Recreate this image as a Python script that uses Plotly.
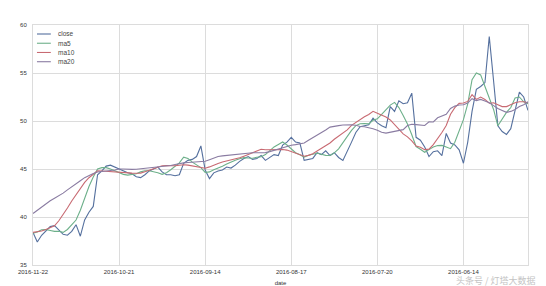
import plotly.graph_objects as go

# ---- data (newest date on the left) ----
tick_labels = ["2016-11-22", "2016-10-21", "2016-09-14", "2016-08-17", "2016-07-20", "2016-06-14"]
tick_step = 20
series_names = ["close", "ma5", "ma10", "ma20"]

close = [38.4, 37.4, 38.1, 38.6, 39.0, 39.1, 38.6, 38.2, 38.1, 38.5,
         39.2, 38.0, 39.7, 40.5, 41.1, 44.4, 44.8, 45.3, 45.4, 45.2,
         45.0, 44.8, 44.6, 44.5, 44.2, 44.1, 44.4, 44.8, 45.0, 45.2,
         44.7, 44.4, 44.4, 44.3, 44.4, 45.6, 45.9, 46.0, 46.3, 47.4,
         44.9, 44.0, 44.6, 44.8, 44.9, 45.2, 45.1, 45.4, 45.8, 46.1,
         46.3, 46.0, 46.1, 46.4, 45.9, 46.2, 46.5, 46.4, 47.5, 47.8,
         48.3, 47.8, 47.7, 45.9, 46.0, 46.1, 46.7, 46.5, 46.9, 46.4,
         46.7, 46.2, 45.9, 46.8, 47.8, 48.8, 49.4, 49.5, 49.6, 50.3,
         49.8, 49.5, 49.3, 51.5, 51.0, 52.1, 51.8, 51.9, 52.9, 48.3,
         48.0, 47.3, 46.3, 46.8, 46.9, 46.4, 48.7, 47.7, 47.5, 47.0,
         45.6, 47.8, 51.0, 53.3, 53.6, 54.0, 58.8, 54.2, 49.5, 48.9,
         48.6, 49.2, 51.2, 53.0, 52.5, 51.1]

ma5 = [38.30, 38.44, 38.68, 38.70, 38.60, 38.50, 38.52, 38.40, 38.70, 39.18,
       39.68, 40.70, 42.06, 43.18, 44.16, 45.00, 45.14, 45.14, 45.00, 44.82,
       44.62, 44.44, 44.36, 44.40, 44.50, 44.70, 44.82, 44.82, 44.74, 44.60,
       44.44, 44.62, 44.92, 45.24, 45.64, 46.24, 46.10, 45.72, 45.44, 45.14,
       44.64, 44.70, 44.92, 45.08, 45.28, 45.52, 45.74, 45.92, 46.06, 46.18,
       46.14, 46.12, 46.22, 46.28, 46.50, 46.88, 47.30, 47.56, 47.82, 47.50,
       47.14, 46.70, 46.48, 46.24, 46.44, 46.52, 46.64, 46.54, 46.42, 46.40,
       46.68, 47.10, 47.74, 48.46, 49.02, 49.52, 49.72, 49.74, 49.70, 50.08,
       50.22, 50.68, 51.14, 51.66, 51.94, 51.40, 50.58, 49.68, 48.56, 47.34,
       47.06, 46.74, 47.02, 47.30, 47.44, 47.46, 47.30, 47.12, 47.78, 48.88,
       50.14, 51.78, 54.30, 55.00, 54.80, 53.60, 52.30, 51.20, 49.50, 50.18,
       50.90, 51.40, 52.40, 52.50, 52.00, 51.80]

ma10 = [38.40, 38.48, 38.54, 38.70, 38.89, 39.09, 39.61, 40.23, 40.94, 41.67,
        42.34, 42.92, 43.60, 44.09, 44.49, 44.81, 44.79, 44.75, 44.70, 44.66,
        44.66, 44.63, 44.59, 44.57, 44.55, 44.57, 44.72, 44.87, 44.99, 45.12,
        45.34, 45.36, 45.32, 45.34, 45.39, 45.44, 45.40, 45.32, 45.26, 45.21,
        45.08, 45.22, 45.42, 45.57, 45.73, 45.83, 45.93, 46.07, 46.17, 46.34,
        46.51, 46.71, 46.89, 47.05, 47.00, 47.01, 47.00, 47.02, 47.03, 46.97,
        46.83, 46.67, 46.51, 46.33, 46.42, 46.60, 46.87, 47.14, 47.44, 47.71,
        48.10, 48.41, 48.74, 49.08, 49.55, 49.87, 50.20, 50.44, 50.68, 51.01,
        50.81, 50.63, 50.41, 50.11, 49.64, 49.23, 48.66, 48.35, 47.93, 47.39,
        47.26, 47.02, 47.07, 47.54, 48.16, 48.80, 49.54, 50.71, 51.39, 51.84,
        51.87, 52.04, 52.75, 52.25, 52.49, 52.25, 51.85, 51.90, 51.70, 51.50,
        51.50, 51.70, 51.90, 52.00, 52.00, 51.90]

ma20 = [40.37, 40.70, 41.07, 41.40, 41.69, 41.95, 42.20, 42.49, 42.82, 43.17,
        43.50, 43.78, 44.10, 44.33, 44.52, 44.69, 44.76, 44.81, 44.85, 44.89,
        45.00, 45.00, 44.96, 44.96, 44.97, 45.01, 45.06, 45.10, 45.13, 45.17,
        45.21, 45.29, 45.37, 45.46, 45.56, 45.64, 45.67, 45.70, 45.72, 45.78,
        45.80, 45.97, 46.16, 46.31, 46.37, 46.42, 46.47, 46.55, 46.60, 46.66,
        46.67, 46.69, 46.70, 46.69, 46.71, 46.81, 46.94, 47.08, 47.24, 47.34,
        47.47, 47.54, 47.63, 47.71, 47.99, 48.24, 48.54, 48.79, 49.06, 49.36,
        49.46, 49.52, 49.58, 49.60, 49.60, 49.55, 49.43, 49.40, 49.31, 49.20,
        49.04, 48.83, 48.74, 48.83, 48.90, 49.02, 49.10, 49.53, 49.66, 49.62,
        49.57, 49.53, 49.91, 49.90, 50.33, 50.53, 50.70, 51.31, 51.55, 51.67,
        51.69, 51.87, 52.33, 52.13, 52.25, 52.08, 51.90, 51.60, 51.30, 51.10,
        50.90, 51.00, 51.20, 51.50, 51.70, 52.00]

# ---- styling ----
colors = ["#55709E", "#6DB08A", "#C86A72", "#8A7CA2"]
grid = "#dcdcdc"
font_family = "Liberation Sans, Arial, sans-serif"

idx = list(range(len(close)))
fig = go.Figure()
for name, ys, c in zip(series_names, [close, ma5, ma10, ma20], colors):
    fig.add_trace(go.Scatter(x=idx, y=ys, mode="lines", name=name,
                             line=dict(color=c, width=1.1), showlegend=False))

# compact legend drawn in the top-left corner of the plot
for k, (name, c) in enumerate(zip(series_names, colors)):
    yk = 0.9625 - k * 0.0385
    fig.add_shape(type="line", xref="paper", yref="paper",
                  x0=0.008, x1=0.036, y0=yk, y1=yk, line=dict(color=c, width=1.1))
    fig.add_annotation(xref="paper", yref="paper", x=0.046, y=yk, text=name,
                       showarrow=False, xanchor="left", yanchor="middle",
                       font=dict(size=6.5, color="#444444", family=font_family))

# watermark
fig.add_annotation(xref="paper", yref="paper", x=0.935, y=-0.0625,
                   text="头条号 / 灯塔大数据", showarrow=False,
                   xanchor="center", yanchor="middle",
                   font=dict(size=9, color="#c4c4c4", family="Noto Sans CJK SC"))

fig.update_layout(
    width=546, height=286,
    margin=dict(l=33, r=18, t=25, b=21, autoexpand=False),
    paper_bgcolor="white", plot_bgcolor="white",
    font=dict(family=font_family, size=6, color="#333333"),
)
fig.update_xaxes(
    range=[0, len(close) - 1],
    tickmode="array",
    tickvals=[i * tick_step for i in range(len(tick_labels))],
    ticktext=tick_labels,
    showgrid=True, gridcolor=grid, gridwidth=1,
    zeroline=False, showline=True, linecolor=grid, linewidth=1, mirror=True,
    ticks="", tickfont=dict(size=6), ticklabelstandoff=1,
    automargin=False,
    title=dict(text="date", font=dict(size=6)),
)
fig.update_yaxes(
    range=[35, 60], dtick=5,
    showgrid=True, gridcolor=grid, gridwidth=1,
    zeroline=False, showline=True, linecolor=grid, linewidth=1, mirror=True,
    ticks="", tickfont=dict(size=6), ticklabelstandoff=4,
    automargin=False,
)

fig.write_html("out.html")
